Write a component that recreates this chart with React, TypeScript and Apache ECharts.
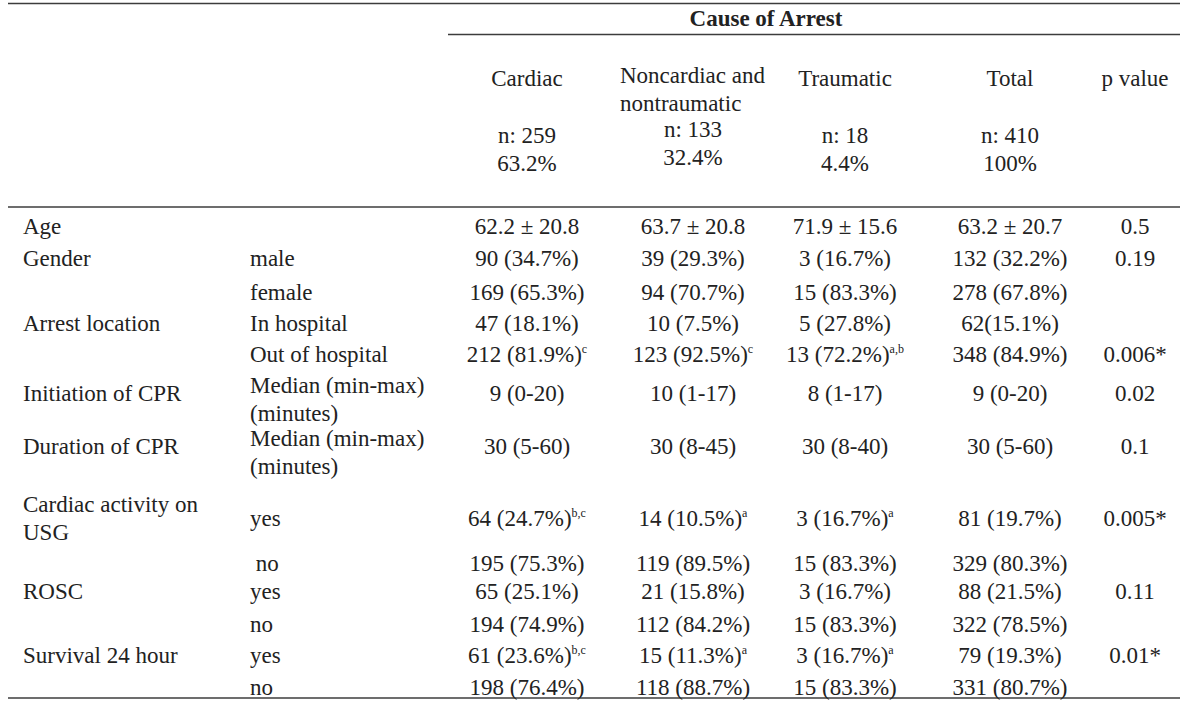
import React, { useEffect, useRef } from "react";
import * as echarts from "echarts";

// ---- Data ----
const spannerTitle = "Cause of Arrest";
const groupNames = ["Cardiac", "Noncardiac and\nnontraumatic", "Traumatic", "Total"];
const groupCounts = ["n: 259", "n: 133", "n: 18", "n: 410"];
const groupShares = ["63.2%", "32.4%", "4.4%", "100%"];
const pHeader = "p value";

const rowLabels = ["Age", "Gender", "", "Arrest location", "", "Initiation of CPR", "Duration of CPR", "Cardiac activity on\nUSG", "", "ROSC", "", "Survival 24 hour", ""];
const subLabels = ["", "male", "female", "In hospital", "Out of hospital", "Median (min-max)\n(minutes)", "Median (min-max)\n(minutes)", "yes", " no", "yes", "no", "yes", "no"];

const cardiacValues = ["62.2 ± 20.8", "90 (34.7%)", "169 (65.3%)", "47 (18.1%)", "212 (81.9%)", "9 (0-20)", "30 (5-60)", "64 (24.7%)", "195 (75.3%)", "65 (25.1%)", "194 (74.9%)", "61 (23.6%)", "198 (76.4%)"];
const cardiacMarks = ["", "", "", "", "c", "", "", "b,c", "", "", "", "b,c", ""];
const noncardiacValues = ["63.7 ± 20.8", "39 (29.3%)", "94 (70.7%)", "10 (7.5%)", "123 (92.5%)", "10 (1-17)", "30 (8-45)", "14 (10.5%)", "119 (89.5%)", "21 (15.8%)", "112 (84.2%)", "15 (11.3%)", "118 (88.7%)"];
const noncardiacMarks = ["", "", "", "", "c", "", "", "a", "", "", "", "a", ""];
const traumaticValues = ["71.9 ± 15.6", "3 (16.7%)", "15 (83.3%)", "5 (27.8%)", "13 (72.2%)", "8 (1-17)", "30 (8-40)", "3 (16.7%)", "15 (83.3%)", "3 (16.7%)", "15 (83.3%)", "3 (16.7%)", "15 (83.3%)"];
const traumaticMarks = ["", "", "", "", "a,b", "", "", "a", "", "", "", "a", ""];
const totalValues = ["63.2 ± 20.7", "132 (32.2%)", "278 (67.8%)", "62(15.1%)", "348 (84.9%)", "9 (0-20)", "30 (5-60)", "81 (19.7%)", "329 (80.3%)", "88 (21.5%)", "322 (78.5%)", "79 (19.3%)", "331 (80.7%)"];
const totalMarks = ["", "", "", "", "", "", "", "", "", "", "", "", ""];
const pValues = ["0.5", "0.19", "", "", "0.006*", "0.02", "0.1", "0.005*", "", "0.11", "", "0.01*", ""];

// ---- Layout (not data) ----
const FONT = "'Liberation Serif', 'Times New Roman', Times, serif";
const FS = 23;
const LH = 28;
const COLOR = "#222222";
const LINE = "#3c3c3c";
const rowY = [226, 258, 292, 323, 354, 393, 446, 518, 563, 591, 624, 655, 687];
const subOffset = [0, 0, 0, 0, 0, 6, 6, 0, 0, 0, 0, 0, 0];
const colX = [527, 693, 845, 1010];
const pX = 1135;
const labelX = 23;
const subX = 250;

export default function App() {
  const ref = useRef<HTMLDivElement>(null);
  useEffect(() => {
    if (!ref.current) return;
    const chart = echarts.init(ref.current, undefined, { renderer: "svg" });
    const els: any[] = [];
    const baseStyle = { fontFamily: FONT, fontSize: FS, fill: COLOR, lineHeight: LH };
    const txt = (text: string, x: number, y: number, align = "center", extra: any = {}) => ({
      type: "text",
      x,
      y,
      style: { ...baseStyle, text, align, verticalAlign: "middle", ...extra },
    });
    const hline = (x1: number, x2: number, y: number, w = 1.5) => ({
      type: "line",
      shape: { x1, y1: y, x2, y2: y },
      style: { stroke: LINE, lineWidth: w },
    });

    // rules
    els.push(hline(8, 1180, 3.5, 1.6));
    els.push(hline(448, 1180, 34.5, 1.6));
    els.push(hline(8, 1180, 207, 1.6));
    els.push(hline(8, 1180, 698, 1.6));

    // header
    els.push(txt(spannerTitle, 766, 18, "center", { fontWeight: "bold" }));
    groupNames.forEach((name, i) => {
      if (name.includes("\n")) {
        els.push(txt(name, 620, 89, "left"));
        els.push(txt(groupCounts[i] + "\n" + groupShares[i], colX[i], 143.5));
      } else {
        els.push(txt(name, colX[i], 78));
        els.push(txt(groupCounts[i] + "\n" + groupShares[i], colX[i], 149.5));
      }
    });
    els.push(txt(pHeader, pX, 78));

    // body
    const valueCols = [
      [cardiacValues, cardiacMarks],
      [noncardiacValues, noncardiacMarks],
      [traumaticValues, traumaticMarks],
      [totalValues, totalMarks],
    ];
    rowY.forEach((y, r) => {
      if (rowLabels[r]) els.push(txt(rowLabels[r], labelX, y, "left"));
      if (subLabels[r]) els.push(txt(subLabels[r], subX, y + subOffset[r], "left"));
      valueCols.forEach(([vals, marks], c) => {
        const v = vals[r];
        const m = marks[r];
        const rich = {
          v: { fontFamily: FONT, fontSize: FS, lineHeight: 23, fill: COLOR },
          s: { fontFamily: FONT, fontSize: 12, lineHeight: 13, fill: COLOR, verticalAlign: "top" },
        };
        const text = m ? `{v|${v}}{s|${m}}` : `{v|${v}}`;
        els.push({
          type: "text",
          x: colX[c],
          y,
          style: { ...baseStyle, text, rich, align: "center", verticalAlign: "middle" },
        });
      });
      if (pValues[r]) els.push(txt(pValues[r], pX, y));
    });

    chart.setOption({
      animation: false,
      backgroundColor: "#ffffff",
      graphic: { elements: els },
    });
    return () => chart.dispose();
  }, []);
  return (
    <div
      ref={ref}
      style={{ position: "fixed", left: 0, top: 0, width: 1200, height: 705, background: "#fff" }}
    />
  );
}
